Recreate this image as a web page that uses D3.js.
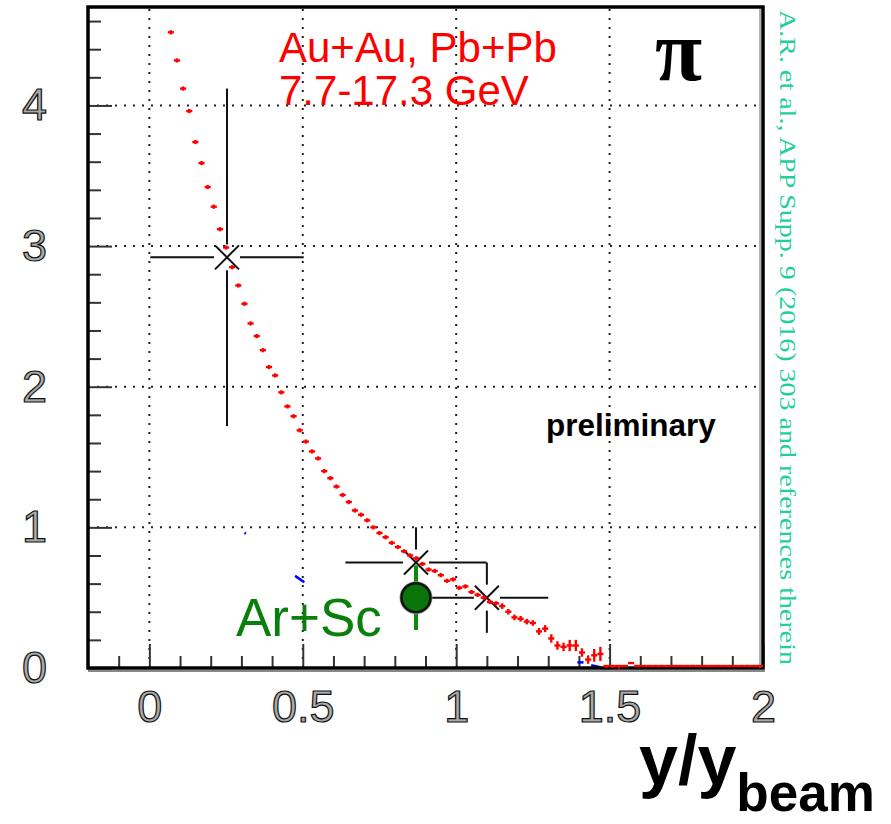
<!DOCTYPE html>
<html>
<head>
<meta charset="utf-8">
<script src="https://cdn.jsdelivr.net/npm/d3@7"></script>
<style>
  body { margin: 0; background: #fff; }
  svg { display: block; }
</style>
</head>
<body>
<div id="chart"></div>
<script>
// Au+Au, Pb+Pb 7.7-17.3 GeV (red histogram points), x = y/y_beam
const redX = [0.07,0.09,0.11,0.13,0.15,0.17,0.19,0.21,0.23,0.25,0.27,0.29,0.31,0.33,0.35,0.37,0.39,0.41,0.43,0.45,
  0.47,0.49,0.51,0.53,0.55,0.57,0.59,0.61,0.63,0.65,0.67,0.69,0.71,0.73,0.75,0.77,0.79,0.81,0.83,0.85,
  0.87,0.89,0.91,0.93,0.95,0.97,0.99,1.01,1.03,1.05,1.07,1.09,1.11,1.13,1.15,1.17,1.19,1.21,1.23,1.25,
  1.27,1.29,1.31,1.33,1.35,1.37,1.39,1.41,1.43,1.45,1.47,1.49,1.51,1.53,1.55,1.57,1.59,1.61,1.63,1.65,
  1.67,1.69,1.71,1.73,1.75,1.77,1.79,1.81,1.83,1.85,1.87,1.89,1.91,1.93,1.95,1.97,1.99];
const redY = [4.52,4.32,4.12,3.96,3.74,3.59,3.42,3.28,3.12,2.99,2.85,2.72,2.59,2.45,2.36,2.26,2.14,2.08,1.96,1.86,
  1.79,1.69,1.61,1.54,1.49,1.40,1.35,1.29,1.23,1.18,1.12,1.09,1.05,1.00,0.96,0.93,0.89,0.86,0.83,0.80,
  0.78,0.74,0.70,0.69,0.66,0.62,0.63,0.57,0.58,0.54,0.52,0.50,0.47,0.46,0.44,0.40,0.36,0.35,0.33,0.32,
  0.26,0.28,0.21,0.16,0.15,0.16,0.16,0.11,0.06,0.09,0.10,0.01,0.01,0.005,0.0,0.035,0.0,0,0,0,
  0,0,0,0,0,0,0,0,0,0,0,0,0,0,0,0,0];
const redErr = [0.015,0.015,0.015,0.015,0.015,0.015,0.015,0.015,0.015,0.015,0.015,0.015,0.015,0.015,0.015,0.015,0.015,0.015,0.015,0.015,
  0.015,0.015,0.015,0.015,0.015,0.015,0.015,0.015,0.015,0.015,0.015,0.015,0.015,0.015,0.015,0.015,0.015,0.015,0.015,0.015,
  0.015,0.015,0.015,0.015,0.015,0.015,0.015,0.015,0.015,0.015,0.015,0.015,0.015,0.015,0.02,0.02,0.02,0.02,0.02,0.02,
  0.025,0.025,0.03,0.03,0.03,0.04,0.04,0.03,0.03,0.045,0.05,0.01,0.01,0.01,0,0,0,0,0,0,
  0,0,0,0,0,0,0,0,0,0,0,0,0,0,0,0,0];
const binHalf = 0.01;

// hidden blue series fragments
const blueSegs = [[[0.475, 0.655], [0.505, 0.61]], [[0.31, 0.96], [0.315, 0.955]],
  [[1.395, 0.04], [1.415, 0.04]], [[1.44, 0.02], [1.47, 0.005]], [[1.48, 0.0], [1.51, 0.0]]];

// pion points with x and y errors (black X markers)
const crossPts = [
  { x: 0.253, y: 2.92, ex: 0.25, ey: 1.2 },
  { x: 0.869, y: 0.75, ex: 0.23, ey: 0.25 },
  { x: 1.10, y: 0.50, ex: 0.20, ey: 0.25 }
];
// Ar+Sc point
const arsc = { x: 0.869, y: 0.50, ey: 0.23 };

const xMajor = [0, 0.5, 1, 1.5, 2];
const xMajorLabels = ["0", "0.5", "1", "1.5", "2"];
const xMinor = [-0.1,0.1,0.2,0.3,0.4,0.6,0.7,0.8,0.9,1.1,1.2,1.3,1.4,1.6,1.7,1.8,1.9];
const yMajor = [0, 1, 2, 3, 4];
const yMinor = [0.2,0.4,0.6,0.8,1.2,1.4,1.6,1.8,2.2,2.4,2.6,2.8,3.2,3.4,3.6,3.8,4.2,4.4,4.6];
const xGrid = [0, 0.5, 1, 1.5];
const yGrid = [1, 2, 3, 4];

const width = 891, height = 824;
const frame = { left: 88, right: 763, top: 7, bottom: 668 };

const svg = d3.select("#chart").append("svg")
  .attr("width", width).attr("height", height);

const x = d3.scaleLinear().domain([-0.2, 2.0]).range([frame.left, frame.right]);
const y = d3.scaleLinear().domain([0, 4.7]).range([frame.bottom, frame.top]);

// grid
svg.append("g").selectAll("line").data(xGrid).enter().append("line")
  .attr("x1", d => x(d)).attr("x2", d => x(d))
  .attr("y1", frame.bottom).attr("y2", frame.top)
  .attr("stroke", "#222").attr("stroke-width", 2).attr("stroke-dasharray", "2,7");
svg.append("g").selectAll("line").data(yGrid).enter().append("line")
  .attr("x1", frame.left).attr("x2", frame.right)
  .attr("y1", d => y(d)).attr("y2", d => y(d))
  .attr("stroke", "#222").attr("stroke-width", 2).attr("stroke-dasharray", "2,7");

// axes ticks
function styleAxis(g) {
  g.select(".domain").remove();
  g.selectAll(".tick line").attr("stroke", "#333").attr("stroke-width", 2);
}
function styleLabels(g) {
  g.selectAll("text")
    .attr("font-family", "Liberation Sans, Arial, sans-serif")
    .attr("font-size", 45)
    .attr("fill", "#aaa").attr("stroke", "#111").attr("stroke-width", 1.2);
}
svg.append("g").attr("transform", `translate(0,${frame.bottom})`)
  .call(d3.axisBottom(x).tickValues(xMinor).tickSize(-12).tickFormat(""))
  .call(styleAxis);
svg.append("g").attr("transform", `translate(0,${frame.bottom})`)
  .call(d3.axisBottom(x).tickValues(xMajor).tickSize(-24).tickPadding(22)
    .tickFormat((d, i) => xMajorLabels[i]))
  .call(styleAxis)
  .call(styleLabels);
svg.append("g").attr("transform", `translate(${frame.left},0)`)
  .call(d3.axisLeft(y).tickValues(yMinor).tickSize(-13).tickFormat(""))
  .call(styleAxis);
svg.append("g").attr("transform", `translate(${frame.left},0)`)
  .call(d3.axisLeft(y).tickValues(yMajor).tickSize(-24).tickPadding(41).tickFormat(d3.format("d")))
  .call(styleAxis)
  .call(styleLabels);

// blue fragments
svg.append("g").selectAll("line").data(blueSegs).enter().append("line")
  .attr("x1", d => x(d[0][0])).attr("y1", d => y(d[0][1]))
  .attr("x2", d => x(d[1][0])).attr("y2", d => y(d[1][1]))
  .attr("stroke", "#0000ff").attr("stroke-width", 2.5);

// black X markers with error bars
const gap = 13, arm = 12;
const cg = svg.append("g").attr("stroke", "#111").attr("stroke-width", 2).attr("fill", "none");
crossPts.forEach(p => {
  const cx = x(p.x), cy = y(p.y);
  cg.append("line").attr("x1", x(p.x - p.ex)).attr("x2", cx - gap).attr("y1", cy).attr("y2", cy);
  cg.append("line").attr("x1", cx + gap).attr("x2", x(p.x + p.ex)).attr("y1", cy).attr("y2", cy);
  cg.append("line").attr("x1", cx).attr("x2", cx).attr("y1", y(p.y + p.ey)).attr("y2", cy - gap);
  cg.append("line").attr("x1", cx).attr("x2", cx).attr("y1", cy + gap).attr("y2", y(p.y - p.ey));
  cg.append("line").attr("x1", cx - arm).attr("x2", cx + arm).attr("y1", cy - arm).attr("y2", cy + arm);
  cg.append("line").attr("x1", cx - arm).attr("x2", cx + arm).attr("y1", cy + arm).attr("y2", cy - arm);
});

// Ar+Sc point
svg.append("line")
  .attr("x1", x(arsc.x)).attr("x2", x(arsc.x))
  .attr("y1", y(arsc.y + arsc.ey)).attr("y2", y(arsc.y - arsc.ey))
  .attr("stroke", "#0b8a0b").attr("stroke-width", 4);
svg.append("circle").attr("cx", x(arsc.x)).attr("cy", y(arsc.y)).attr("r", 16.5)
  .attr("fill", "#999");
svg.append("circle").attr("cx", x(arsc.x)).attr("cy", y(arsc.y)).attr("r", 14.5)
  .attr("fill", "#0a730a").attr("stroke", "#111").attr("stroke-width", 2.5);

// frame
svg.append("rect")
  .attr("x", frame.left).attr("y", frame.top)
  .attr("width", frame.right - frame.left).attr("height", frame.bottom - frame.top)
  .attr("fill", "none").attr("stroke", "#000").attr("stroke-width", 3.5);
svg.append("line").attr("x1", frame.left).attr("x2", frame.right + 2)
  .attr("y1", frame.bottom + 3).attr("y2", frame.bottom + 3)
  .attr("stroke", "#888").attr("stroke-width", 2);
svg.append("line").attr("x1", frame.right - 3).attr("x2", frame.right - 3)
  .attr("y1", frame.top + 2).attr("y2", frame.bottom)
  .attr("stroke", "#999").attr("stroke-width", 1.5);

// red points (drawn above the frame so the zero bins show along the bottom)
const red = redX.map((v, i) => ({ x: v, y: redY[i], e: redErr[i] }));
const rg = svg.append("g").attr("stroke", "#ff0000").attr("stroke-width", 2.4);
rg.selectAll("line.h").data(red).enter().append("line").attr("class", "h")
  .attr("x1", d => x(d.x - binHalf)).attr("x2", d => x(d.x + binHalf))
  .attr("y1", d => Math.min(y(d.y), frame.bottom - 2)).attr("y2", d => Math.min(y(d.y), frame.bottom - 2));
rg.selectAll("line.v").data(red.filter(d => d.e > 0)).enter().append("line").attr("class", "v")
  .attr("x1", d => x(d.x)).attr("x2", d => x(d.x))
  .attr("y1", d => y(d.y + d.e)).attr("y2", d => y(d.y - d.e));

// texts
svg.append("text").attr("x", 279).attr("y", 62)
  .attr("font-family", "Liberation Sans, Arial, sans-serif").attr("font-size", 42)
  .attr("fill", "#ff0000").text("Au+Au, Pb+Pb");
svg.append("text").attr("x", 279).attr("y", 105)
  .attr("font-family", "Liberation Sans, Arial, sans-serif").attr("font-size", 42)
  .attr("fill", "#ff0000").text("7.7-17.3 GeV");
svg.append("text").attr("x", 655).attr("y", 80)
  .attr("font-family", "Liberation Serif, Times New Roman, serif").attr("font-size", 86)
  .attr("font-weight", "bold").attr("fill", "#000").text("π");
svg.append("text").attr("x", 546).attr("y", 436)
  .attr("font-family", "Liberation Sans, Arial, sans-serif").attr("font-size", 31.5)
  .attr("font-weight", "bold").attr("fill", "#000").text("preliminary");
svg.append("text").attr("x", 236).attr("y", 636)
  .attr("font-family", "Liberation Sans, Arial, sans-serif").attr("font-size", 53)
  .attr("fill", "#0b7f0b").text("Ar+Sc");

// axis title y/y_beam
const xt = svg.append("text").attr("x", 639).attr("y", 784)
  .attr("font-family", "Liberation Sans, Arial, sans-serif").attr("font-weight", "bold")
  .attr("fill", "#000");
xt.append("tspan").attr("font-size", 70).text("y/y");
xt.append("tspan").attr("font-size", 53).attr("dy", 27).text("beam");

// reference note, rotated
svg.append("text")
  .attr("transform", "translate(780,10) rotate(90)")
  .attr("font-family", "Liberation Serif, Times New Roman, serif").attr("font-size", 23)
  .attr("fill", "#1fcf9c")
  .attr("textLength", 655).attr("lengthAdjust", "spacingAndGlyphs")
  .text("A.R. et al., APP Supp. 9 (2016) 303 and references therein");
</script>
</body>
</html>
